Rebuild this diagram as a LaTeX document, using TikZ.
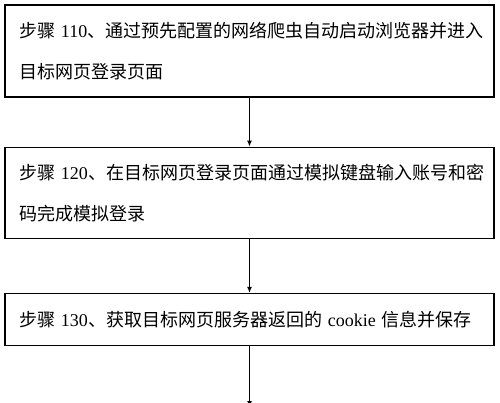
\documentclass[tikz,border=0pt]{standalone}
\usepackage{fontspec}
\setmainfont{Liberation Serif}
\newfontfamily\cjk{Noto Sans CJK SC}
\usetikzlibrary{positioning,arrows.meta}
\tikzset{
  stepbox/.style={draw,line width=1.3pt,text width=461pt,align=left,
    inner xsep=14pt,inner ysep=0pt,
    font=\fontsize{18}{41}\selectfont\cjk},
  flow/.style={line width=1.5pt,-{Latex[length=6pt,width=5pt]}}}
\newcommand\num[1]{{\rmfamily #1}}
\begin{document}
\begin{tikzpicture}
\useasboundingbox (0,0) rectangle (500pt,-402pt);
\node[stepbox,minimum height=92pt] (s110) at (249.5pt,-51pt)
  {步骤 \num{110}、通过预先配置的网络爬虫自动启动浏览器并进入\\目标网页登录页面};
\node[stepbox,minimum height=91pt,below=49pt of s110] (s120)
  {步骤 \num{120}、在目标网页登录页面通过模拟键盘输入账号和密\\码完成模拟登录};
\node[stepbox,minimum height=52pt,below=54pt of s120] (s130)
  {步骤 \num{130}、获取目标网页服务器返回的 \num{cookie} 信息并保存};
\coordinate (out) at (s130.south |- 0,-407pt);
\draw[flow] (s110) -- (s120);
\draw[flow] (s120) -- (s130);
\draw[flow] (s130) -- (out);
\end{tikzpicture}
\end{document}
